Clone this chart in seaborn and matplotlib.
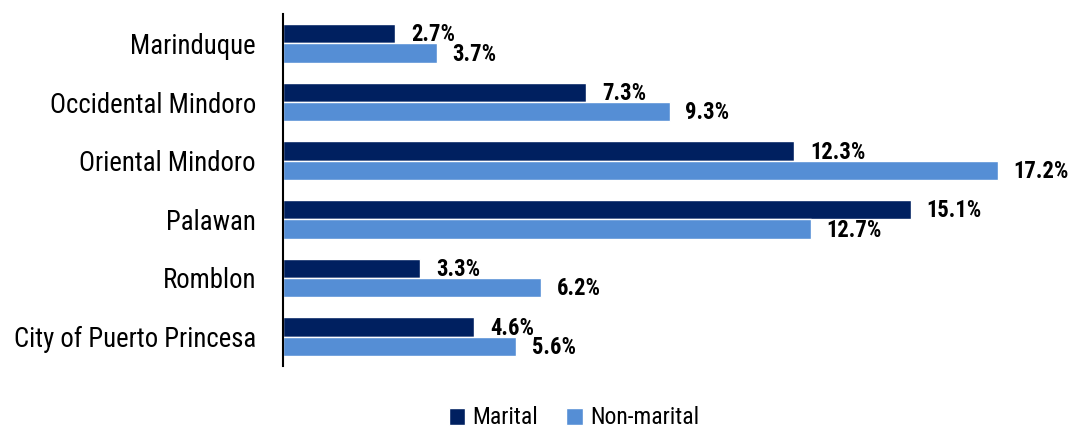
import pandas as pd
import matplotlib.pyplot as plt
import seaborn as sns

# Datos
provincias = ['Marinduque', 'Occidental Mindoro', 'Oriental Mindoro', 'Palawan',
              'Romblon', 'City of Puerto Princesa']
marital = [2.7, 7.3, 12.3, 15.1, 3.3, 4.6]
no_marital = [3.7, 9.3, 17.2, 12.7, 6.2, 5.6]
series = ['Marital', 'Non-marital']
colores = ['#002060', '#558ED5']

df = pd.DataFrame({
    'Provincia': provincias * 2,
    'Valor': marital + no_marital,
    'Serie': [series[0]] * len(provincias) + [series[1]] * len(provincias),
})

sns.set_style('white')
plt.rcParams['font.family'] = ['Roboto Condensed', 'Archivo Narrow', 'Liberation Sans', 'DejaVu Sans']
plt.rcParams['text.color'] = 'black'
plt.rcParams['ytick.color'] = 'black'

fig = plt.figure(figsize=(10.7, 4.28), dpi=100)
ax = fig.add_axes([283 / 1070, 62 / 428, (1060 - 283) / 1070, 352 / 428])

sns.barplot(data=df, x='Valor', y='Provincia', hue='Serie', orient='h',
            palette=colores, width=0.66, ax=ax, saturation=1)

# Etiquetas de valores
for cont in ax.containers:
    for barra in cont:
        w = barra.get_width()
        ax.text(w + 0.38, barra.get_y() + barra.get_height() / 2 + 0.02, f'{w:.1f}%',
                ha='left', va='center', fontsize=16.3, fontweight='bold', color='black')

ax.set_xlim(0, (1060 - 283) / ((998 - 283) / 17.2))
ax.set_ylim(5.5, -0.5)
ax.set_xlabel('')
ax.set_ylabel('')
ax.set_xticks([])
ax.tick_params(axis='y', length=0, pad=19.5, labelsize=19.3)
for s in ['top', 'right', 'bottom']:
    ax.spines[s].set_visible(False)
ax.spines['left'].set_color('black')
ax.spines['left'].set_linewidth(1.5)

ax.legend(loc='center', bbox_to_anchor=(574 / 1070, 10 / 428), bbox_transform=fig.transFigure,
          ncol=2, frameon=False, fontsize=17, handlelength=0.7, handleheight=0.7,
          handletextpad=0.3, columnspacing=1.2)

fig.savefig('out.png', dpi=100)
